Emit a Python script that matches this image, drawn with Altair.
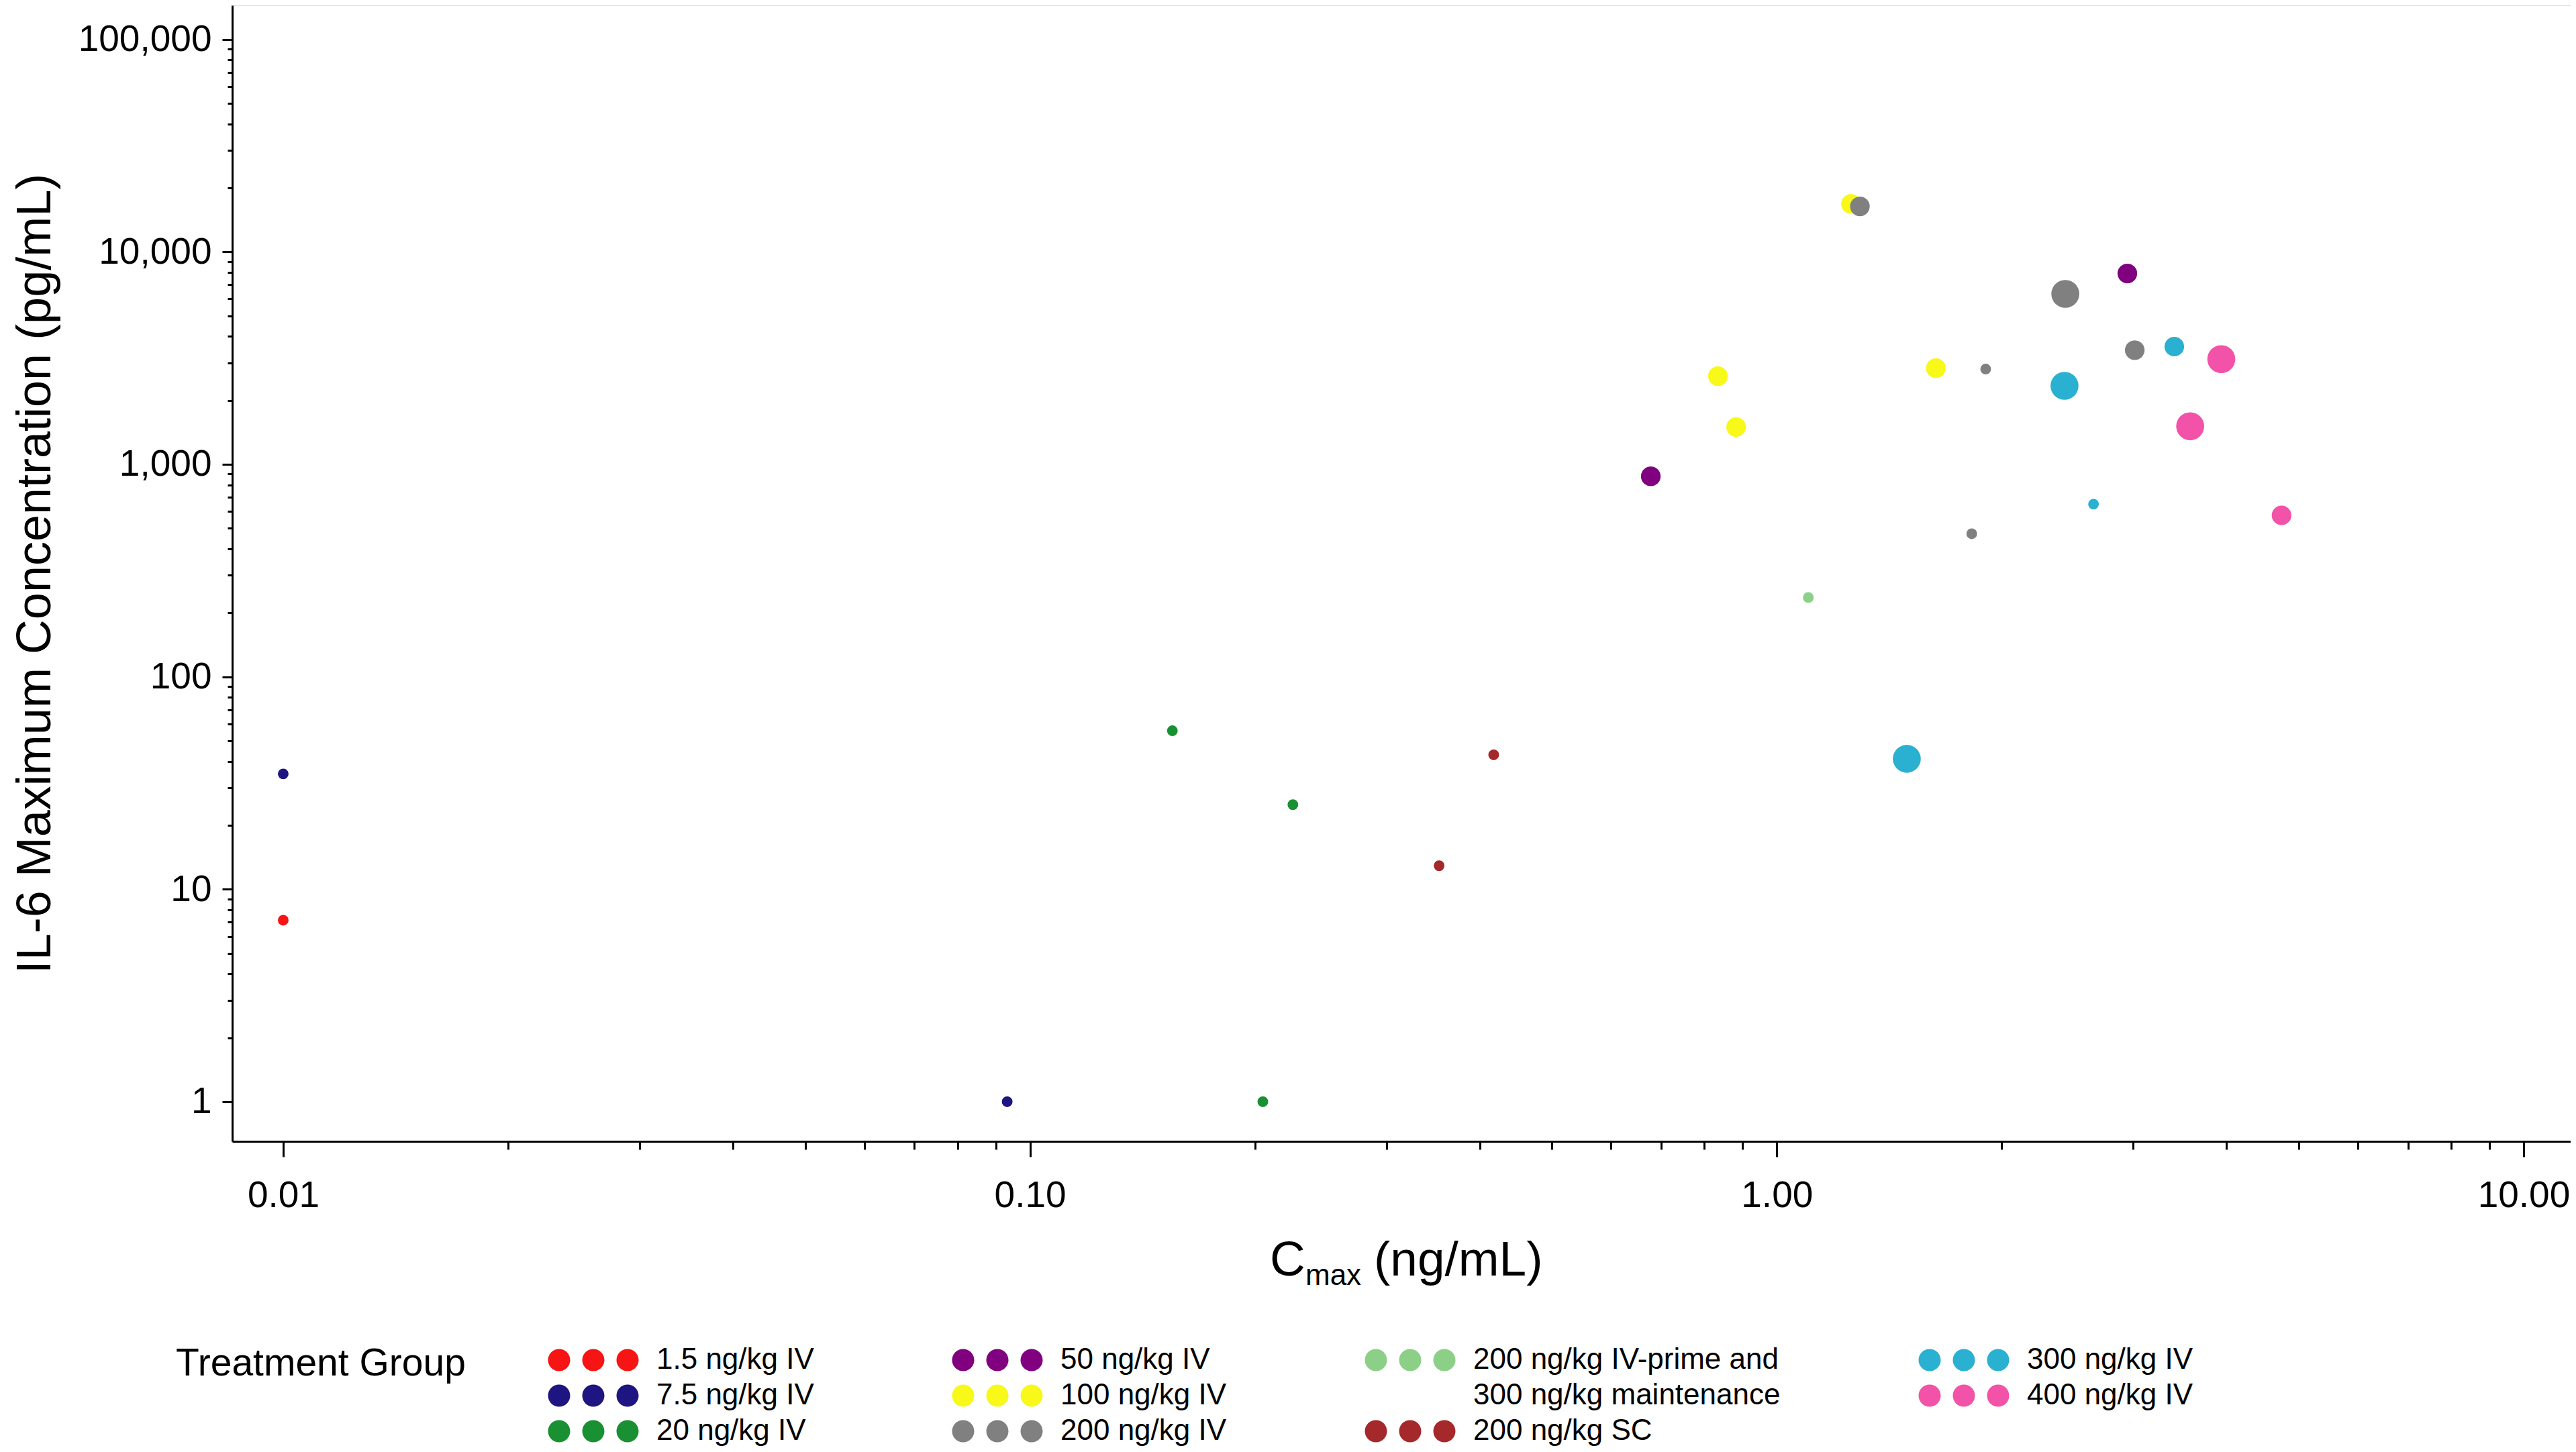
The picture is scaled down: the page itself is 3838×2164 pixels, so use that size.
import altair as alt
import pandas as pd

FONT = "Liberation Sans"

# ---- data ----
groups = [
    "1.5 ng/kg IV",
    "7.5 ng/kg IV", "7.5 ng/kg IV",
    "20 ng/kg IV", "20 ng/kg IV", "20 ng/kg IV",
    "200 ng/kg SC", "200 ng/kg SC",
    "50 ng/kg IV", "50 ng/kg IV",
    "100 ng/kg IV", "100 ng/kg IV", "100 ng/kg IV", "100 ng/kg IV",
    "200 ng/kg IV", "200 ng/kg IV", "200 ng/kg IV", "200 ng/kg IV", "200 ng/kg IV",
    "200 ng/kg IV-prime and 300 ng/kg maintenance",
    "300 ng/kg IV", "300 ng/kg IV", "300 ng/kg IV", "300 ng/kg IV",
    "400 ng/kg IV", "400 ng/kg IV", "400 ng/kg IV",
]
cmax = [
    0.0100,
    0.0100, 0.0932,
    0.1551, 0.2249, 0.2050,
    0.353, 0.4177,
    0.678, 2.947,
    0.834, 0.882, 1.633, 1.257,
    1.292, 2.434, 3.015, 1.904, 1.824,
    1.102,
    1.493, 2.428, 3.406, 2.655,
    3.937, 3.577, 4.741,
]
il6 = [
    7.15,
    34.9, 1.0,
    55.7, 25.0, 1.0,
    12.9, 42.9,
    877, 7902,
    2598, 1496, 2833, 16790,
    16350, 6333, 3443, 2805, 471,
    236,
    41.1, 2339, 3580, 649,
    3123, 1509, 575,
]
marker_level = [
    1,
    1, 1,
    1, 1, 1,
    1, 1,
    2, 2,
    2, 2, 2, 2,
    2, 3, 2, 1, 1,
    1,
    3, 3, 2, 1,
    3, 3, 2,
]

# legend entries (filled column by column, 3 rows)
legend_order = [
    "1.5 ng/kg IV", "7.5 ng/kg IV", "20 ng/kg IV",
    "50 ng/kg IV", "100 ng/kg IV", "200 ng/kg IV",
    "200 ng/kg IV-prime and 300 ng/kg maintenance", "300 ng/kg maintenance", "200 ng/kg SC",
    "300 ng/kg IV", "400 ng/kg IV",
]
legend_colors = [
    "#F71414", "#1E1482", "#199032",
    "#800080", "#F8F819", "#808080",
    "#8CD087", "#FFFFFF", "#A5282A",
    "#2AB0D0", "#F252A8",
]

x_tick_values = [
    0.01, 0.02, 0.03, 0.04, 0.05, 0.06, 0.07, 0.08, 0.09,
    0.1, 0.2, 0.3, 0.4, 0.5, 0.6, 0.7, 0.8, 0.9,
    1, 2, 3, 4, 5, 6, 7, 8, 9, 10,
]
y_tick_values = [
    1, 2, 3, 4, 5, 6, 7, 8, 9,
    10, 20, 30, 40, 50, 60, 70, 80, 90,
    100, 200, 300, 400, 500, 600, 700, 800, 900,
    1000, 2000, 3000, 4000, 5000, 6000, 7000, 8000, 9000,
    10000, 20000, 30000, 40000, 50000, 60000, 70000, 80000, 90000,
    100000,
]

df = pd.DataFrame({"group": groups, "cmax": cmax, "il6": il6, "level": marker_level})

MAJ = "abs(log(datum.value)/LN10 - round(log(datum.value)/LN10)) < 0.000001"

# three dots side by side as a legend symbol
def _circ(cx):
    return f"M {cx-1} 0 A 1 1 0 1 0 {cx+1} 0 A 1 1 0 1 0 {cx-1} 0 Z"
THREE_DOTS = " ".join(_circ(c) for c in (0, 3.0909, 6.1818))

W, H = 3484, 1693

axis_common = dict(
    grid=False, domainColor="black", domainWidth=3, tickColor="black", tickWidth=3,
    labelFont=FONT, labelColor="black", labelOverlap=False, labelFlush=False, labelLimit=0,
)

points = alt.Chart(df).mark_circle(opacity=1, strokeWidth=0).encode(
    x=alt.X(
        "cmax:Q",
        scale=alt.Scale(type="log", domain=[0.008545, 11.56], nice=False),
        axis=alt.Axis(
            values=x_tick_values, title=None,
            labelExpr=f"({MAJ}) ? format(datum.value, '.2f') : ''",
            tickSize={"condition": {"test": MAJ, "value": 23}, "value": 12},
            labelPadding=31, labelFontSize=55, **axis_common,
        ),
    ),
    y=alt.Y(
        "il6:Q",
        scale=alt.Scale(type="log", domain=[0.651, 144400], nice=False),
        axis=alt.Axis(
            values=y_tick_values, title="IL-6 Maximum Concentration (pg/mL)",
            labelExpr=f"({MAJ}) ? format(datum.value, ',') : ''",
            tickSize={"condition": {"test": MAJ, "value": 15}, "value": 7},
            labelPadding=16, labelFontSize=55,
            titleFont=FONT, titleFontSize=72, titleFontWeight="normal", titleColor="black",
            titleX=-272, titleBaseline="alphabetic",
            **axis_common,
        ),
    ),
    color=alt.Color(
        "group:N",
        scale=alt.Scale(domain=legend_order, range=legend_colors),
        legend=alt.Legend(
            title="Treatment Group", orient="none", legendX=-84, legendY=1997,
            columns=4, columnPadding=200, rowPadding=9, gridAlign="each",
            titleOrient="left", titleAnchor="start", titleBaseline="top", titlePadding=117,
            titleFont=FONT, titleFontSize=57, titleFontWeight="normal", titleColor="black",
            titleLimit=0,
            labelFont=FONT, labelFontSize=44, labelColor="black", labelOffset=123,
            labelLimit=0,
            labelExpr="datum.value == '200 ng/kg IV-prime and 300 ng/kg maintenance' ? '200 ng/kg IV-prime and' : datum.label",
            symbolType=THREE_DOTS, symbolSize=1089, symbolStrokeWidth=0, symbolOpacity=1,
            padding=0,
        ),
    ),
    size=alt.Size("level:Q", scale=alt.Scale(type="linear", domain=[1, 2, 3], range=[254, 855, 1735]), legend=None),
)

def title_piece(s, px, py, fs):
    return alt.Chart(pd.DataFrame({"t": [s]})).mark_text(
        align="left", baseline="alphabetic", fontSize=fs, font=FONT, color="black"
    ).encode(text="t:N", x=alt.value(px), y=alt.value(py))

chart = alt.layer(
    points,
    title_piece("C", 1546, 1893, 73),
    title_piece("max", 1599, 1907, 44),
    title_piece("(ng/mL)", 1701, 1893, 73),
).properties(
    width=W, height=H,
    padding={"left": 338, "top": 0, "right": 0, "bottom": 455},
    autosize=alt.AutoSizeParams(type="none"),
).configure_view(stroke=None).configure(background="white")

chart.save("out.html", embed_options={"renderer": "svg", "actions": False})
